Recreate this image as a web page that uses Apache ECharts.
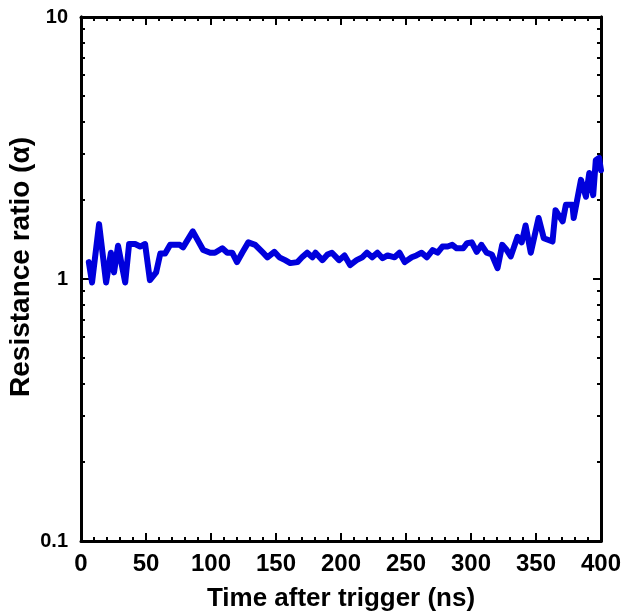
<!DOCTYPE html>
<html>
<head>
<meta charset="utf-8">
<script src="https://cdn.jsdelivr.net/npm/echarts@6/dist/echarts.min.js"></script>
<style>
html,body{margin:0;padding:0;background:#fff;}
#chart{width:621px;height:611px;}
</style>
</head>
<body>
<div id="chart"></div>
<script>
// time after trigger (ns)
const timeNs = [6,8.5,13.9,19.3,23,25.4,28.5,34,37,41.6,45.5,49.3,53,57.8,61,64.7,68.6,76,78.5,86,94,99.4,103,108.7,112.5,116.3,120,124,128.7,134,140,143.4,148.7,152.6,157,161,166.5,170,174,178,180.4,185.7,189.6,193,198.5,202.7,207,212,216.3,220,224,228,232,235.8,241.2,245,249,254.4,258,262,266,270.5,274.3,278,282,285.6,289,294,297,300.6,304.4,308,312,316,320.4,324,327.5,330.6,335.8,339,342,346,352,356,362.7,365,370.5,373,378,379,384.6,388.4,391,394,396,398.5,400];
// resistance ratio (alpha)
const ratio = [1.16,0.97,1.62,0.97,1.26,1.06,1.34,0.97,1.36,1.36,1.33,1.36,0.99,1.06,1.25,1.25,1.35,1.35,1.32,1.52,1.29,1.26,1.26,1.31,1.26,1.26,1.16,1.26,1.38,1.35,1.26,1.21,1.27,1.21,1.18,1.15,1.16,1.21,1.26,1.21,1.26,1.18,1.24,1.26,1.18,1.23,1.13,1.18,1.21,1.26,1.21,1.26,1.2,1.23,1.21,1.26,1.16,1.21,1.23,1.26,1.21,1.29,1.26,1.33,1.33,1.35,1.31,1.31,1.37,1.38,1.27,1.35,1.26,1.24,1.10,1.35,1.29,1.22,1.45,1.38,1.6,1.26,1.71,1.43,1.39,1.83,1.66,1.92,1.92,1.71,2.39,2.06,2.54,2.09,2.84,2.9,2.6];
// axis ticks
const xTicks = [0,50,100,150,200,250,300,350,400];
const yMajor = [0.1,1,10];
const yMinor = [0.2,0.3,0.4,0.5,0.6,0.7,0.8,0.9,2,3,4,5,6,7,8,9];

const chart = echarts.init(document.getElementById('chart'));
const FONT = 'Liberation Sans';
const axisLine = {show:true, lineStyle:{color:'#000', width:3}};
const yBase = (pos, ticks, len, labels) => ({
  type:'log', logBase:10, min:0.1, max:10, position:pos,
  axisLine: axisLine,
  axisTick:{show:true, inside:true, length:len, customValues:ticks, lineStyle:{color:'#000', width:2}},
  axisLabel: labels ? {show:true, customValues:yMajor, margin:13, color:'#000', fontFamily:FONT, fontWeight:'bold', fontSize:20, formatter:v=>String(v)} : {show:false},
  splitLine:{show:false}
});
const series = [{
  type:'line',
  data: timeNs.map((t,i)=>[t, ratio[i]]),
  showSymbol:false, symbol:'none',
  lineStyle:{color:'#0000dc', width:6, join:'round', cap:'round'},
  clip:false, silent:true, animation:false
}];
chart.setOption({
  animation:false,
  grid:{left:81, right:20, top:17, bottom:70, containLabel:false, outerBoundsMode:'none'},
  xAxis:[{
    type:'value', min:0, max:400, interval:50, position:'bottom',
    name:'Time after trigger (ns)', nameLocation:'middle', nameGap:45, nameMoveOverlap:false,
    nameTextStyle:{color:'#000', fontFamily:FONT, fontWeight:'bold', fontSize:26},
    axisLine: axisLine,
    axisTick:{show:true, inside:true, length:8, lineStyle:{color:'#000', width:2}},
    minorTick:{show:true, splitNumber:5, length:4, lineStyle:{color:'#000', width:2}},
    axisLabel:{color:'#000', margin:11, fontFamily:FONT, fontWeight:'bold', fontSize:24},
    splitLine:{show:false}, minorSplitLine:{show:false}
  },{
    type:'value', min:0, max:400, interval:50, position:'top',
    axisLine: axisLine,
    axisTick:{show:true, inside:true, length:8, lineStyle:{color:'#000', width:2}},
    minorTick:{show:true, splitNumber:5, length:4, lineStyle:{color:'#000', width:2}},
    axisLabel:{show:false},
    splitLine:{show:false}
  }],
  yAxis:[
    Object.assign(yBase('left', yMajor, 8, true), {
      name:'Resistance ratio (\u03b1)', nameLocation:'middle', nameGap:46, nameMoveOverlap:false,
      nameTextStyle:{color:'#000', fontFamily:FONT, fontWeight:'bold', fontSize:28, padding:[0,0,0,24]}
    }),
    yBase('left', yMinor, 4, false),
    yBase('right', yMajor, 8, false),
    yBase('right', yMinor, 4, false)
  ],
  series: series
});
</script>
</body>
</html>
